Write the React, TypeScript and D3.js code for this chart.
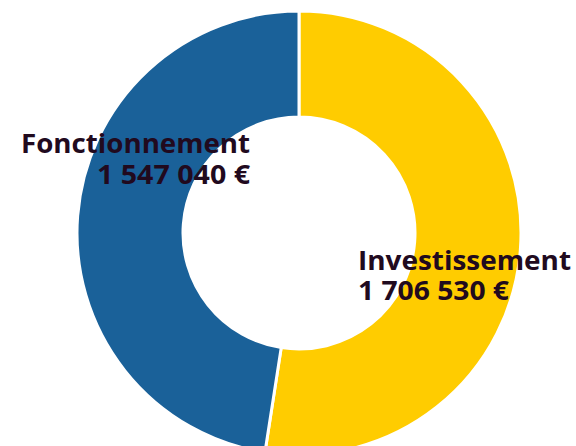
import React, { useEffect, useRef } from "react";
import * as d3 from "d3";

const categories = ["Investissement", "Fonctionnement"];
const values = [1706530, 1547040];
const colors = ["#ffcc00", "#1a6199"];

const fmt = (v: number) => d3.format(",")(v).replace(/,/g, " ") + " €";

export default function App() {
    const svgRef = useRef<SVGSVGElement>(null);

    useEffect(() => {
        const cx = 299;
        const cy = 233;
        const outer = 222;
        const inner = 116;

        const svg = d3.select(svgRef.current);
        svg.selectAll("*").remove();

        const g = svg.append("g").attr("transform", `translate(${cx},${cy})`);

        const data = categories.map((c, i) => ({ name: c, value: values[i], color: colors[i] }));
        const pie = d3.pie<any>().sort(null).value((d) => d.value);
        const arc = d3.arc<any>().innerRadius(inner).outerRadius(outer);

        g.selectAll("path")
            .data(pie(data))
            .join("path")
            .attr("d", arc)
            .attr("fill", (d) => d.data.color)
            .attr("stroke", "#fff")
            .attr("stroke-width", 3);

        const labels = [
            { i: 1, x: 250, y: 153, dy: 31, anchor: "end", w1: 229, w2: 153 },
            { i: 0, x: 358, y: 270, dy: 30, anchor: "start", w1: 213, w2: 151 },
        ];
        labels.forEach((l) => {
            const t = svg
                .append("text")
                .attr("x", l.x)
                .attr("y", l.y)
                .attr("text-anchor", l.anchor)
                .attr("fill", "#210a1e")
                .style("font-family", "'Open Sans', Lato, sans-serif")
                .style("font-weight", "bold")
                .style("font-size", "27px");
            t.append("tspan").attr("x", l.x).attr("textLength", l.w1).attr("lengthAdjust", "spacingAndGlyphs").text(categories[l.i]);
            t.append("tspan").attr("x", l.x).attr("dy", l.dy).attr("textLength", l.w2).attr("lengthAdjust", "spacingAndGlyphs").text(fmt(values[l.i]));
        });
    }, []);

    return <svg ref={svgRef} width={576} height={446} style={{ display: "block", position: "absolute", left: 0, top: 0 }} />;
}
